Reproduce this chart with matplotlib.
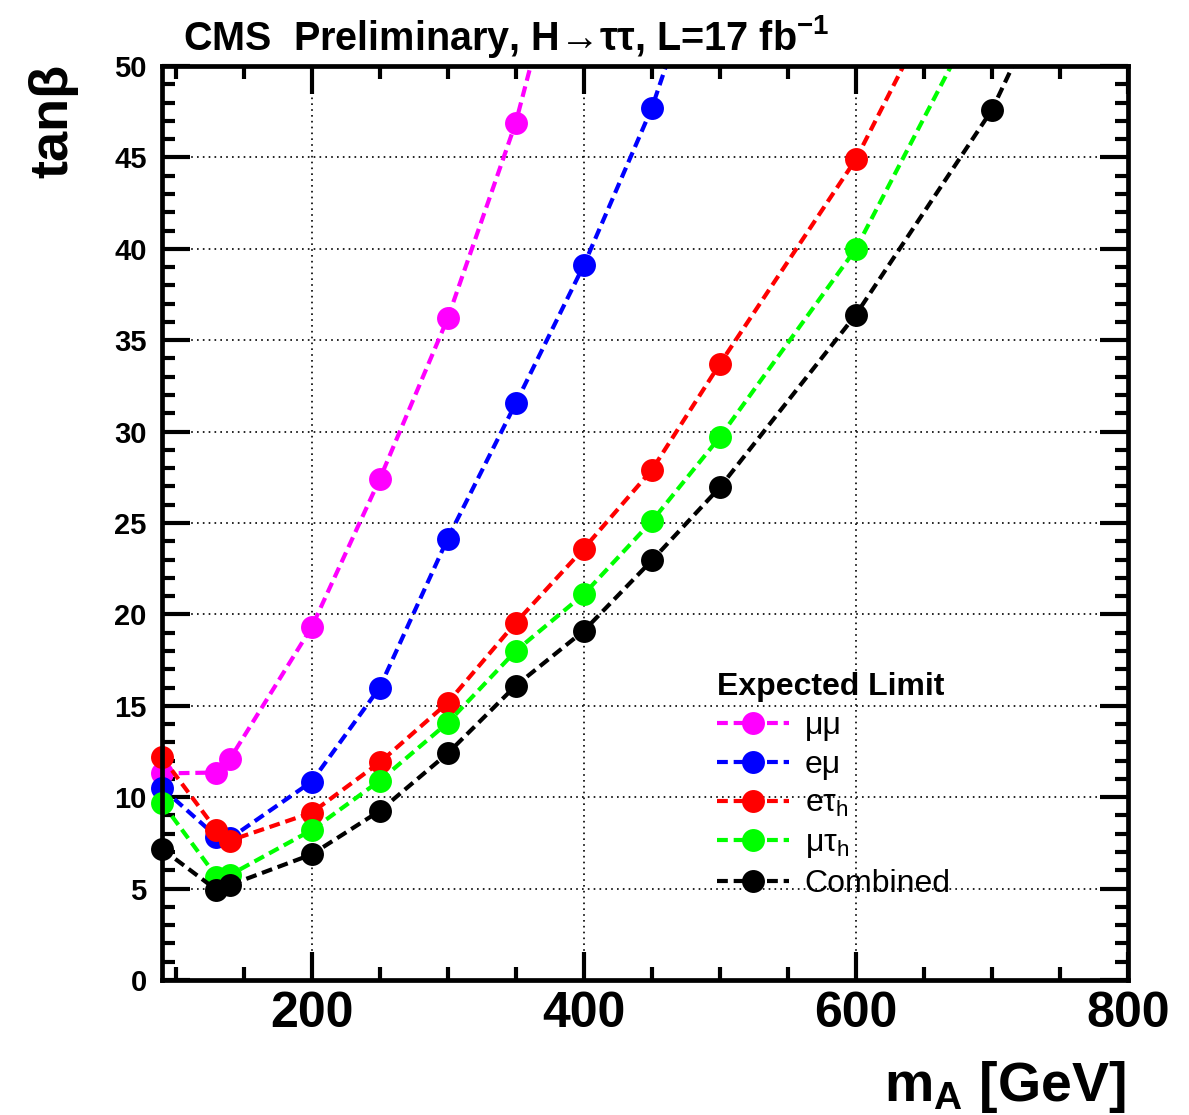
import numpy as np
import matplotlib
matplotlib.use("Agg")
import matplotlib.pyplot as plt
from matplotlib.ticker import MultipleLocator
from matplotlib.patches import Rectangle

# ── Fonts (Helvetica-like look) ───────────────────────────────────────────────
plt.rcParams["font.family"] = ["Liberation Sans", "DejaVu Sans"]
plt.rcParams["mathtext.fontset"] = "custom"
plt.rcParams["mathtext.rm"] = "Liberation Sans"
plt.rcParams["mathtext.it"] = "Liberation Sans:italic"
plt.rcParams["mathtext.bf"] = "Liberation Sans:bold"

# ── Data: expected tan(beta) limits vs m_A ────────────────────────────────────
mumu_mass = [90, 130, 140, 200, 250, 300, 350, 400]
mumu = [11.3, 11.35, 12.1, 19.3, 27.4, 36.2, 46.9, 61.1]

emu_mass = [90, 130, 140, 200, 250, 300, 350, 400, 450, 500]
emu = [10.5, 7.85, 7.75, 10.85, 16.0, 24.15, 31.55, 39.1, 47.7, 58.7]

etau_mass = [90, 130, 140, 200, 250, 300, 350, 400, 450, 500, 600, 700]
etau = [12.2, 8.2, 7.63, 9.15, 11.9, 15.17, 19.55, 23.6, 27.9, 33.7, 44.9, 59.5]

mutau_mass = [90, 130, 140, 200, 250, 300, 350, 400, 450, 500, 600, 700]
mutau = [9.7, 5.66, 5.75, 8.2, 10.9, 14.07, 18.0, 21.1, 25.1, 29.7, 40.0, 54.3]

comb_mass = [90, 130, 140, 200, 250, 300, 350, 400, 450, 500, 600, 700, 800]
comb = [7.17, 4.93, 5.2, 6.87, 9.25, 12.4, 16.1, 19.1, 22.95, 26.95, 36.4, 47.6, 63.3]

labels = ["μμ", "eμ", r"eτ$_{\mathrm{h}}$", r"μτ$_{\mathrm{h}}$", "Combined"]
colors = ["#ff00ff", "#0000ff", "#ff0000", "#00ff00", "#000000"]

series = [(mumu_mass, mumu), (emu_mass, emu), (etau_mass, etau),
          (mutau_mass, mutau), (comb_mass, comb)]

YMAX = 50

# ── Figure ────────────────────────────────────────────────────────────────────
W, H = 1189, 1115
fig = plt.figure(figsize=(W / 100, H / 100), dpi=100)
ax = fig.add_axes([162 / W, 1 - 980 / H, (1128 - 162) / W, (980 - 66) / H])

# clip only at the top/right so markers on the left edge stay whole (ROOT style)
clip_box = Rectangle((-0.05, -0.05), 1.05, 1.05, transform=ax.transAxes,
                     facecolor="none", edgecolor="none")

for (xs, ys), lab, col in zip(series, labels, colors):
    line, = ax.plot(xs, ys, color=col, lw=3, dashes=(2.6, 1.4), marker="o",
                    markersize=16.5, markeredgewidth=0, label=lab,
                    markevery=[y <= YMAX for y in ys])
    line.set_clip_path(clip_box)

ax.set_xlim(90, 800)
ax.set_ylim(0, YMAX)

ax.xaxis.set_major_locator(MultipleLocator(200))
ax.xaxis.set_minor_locator(MultipleLocator(50))
ax.yaxis.set_major_locator(MultipleLocator(5))
ax.yaxis.set_minor_locator(MultipleLocator(1))

ax.grid(True, which="major", color="black", ls=(0, (1, 2.5)), lw=1.2)
ax.set_axisbelow(True)

for s in ax.spines.values():
    s.set_linewidth(3.4)
    s.set_zorder(5)

ax.tick_params(which="both", direction="in", top=True, right=True, width=3)
ax.tick_params(which="major", length=20)
ax.tick_params(which="minor", length=9.5)
ax.tick_params(axis="x", which="major", labelsize=36, pad=8)
ax.tick_params(axis="y", which="major", labelsize=21, pad=11)
for t in ax.get_xticklabels() + ax.get_yticklabels():
    t.set_fontweight("bold")

# ── Axis titles and header ────────────────────────────────────────────────────
fig.text(1126 / W, 1 - 1101 / H, r"m$_{\mathbf{A}}$ [GeV]", fontsize=40,
         fontweight="bold", ha="right", va="baseline")
fig.text(53 / W, 1 - 64 / H, "tanβ", fontsize=39, fontweight="bold",
         rotation=90, ha="center", va="top")
fig.text(183 / W, 1 - 50 / H,
         r"CMS  Preliminary, H→ττ, L=17 fb$^{\mathbf{-1}}$",
         fontsize=28.5, fontweight="bold", ha="left", va="baseline")

# ── Legend ────────────────────────────────────────────────────────────────────
leg = ax.legend(loc="upper left", bbox_to_anchor=(717 / W, 1 - 672 / H),
                bbox_transform=fig.transFigure, frameon=False, fontsize=23,
                title="Expected Limit",
                title_fontproperties={"weight": "bold", "size": 23},
                alignment="left", numpoints=1, handlelength=2.25,
                handletextpad=0.5, labelspacing=0.28, borderpad=0,
                borderaxespad=0)

fig.savefig("out.png", dpi=100)
